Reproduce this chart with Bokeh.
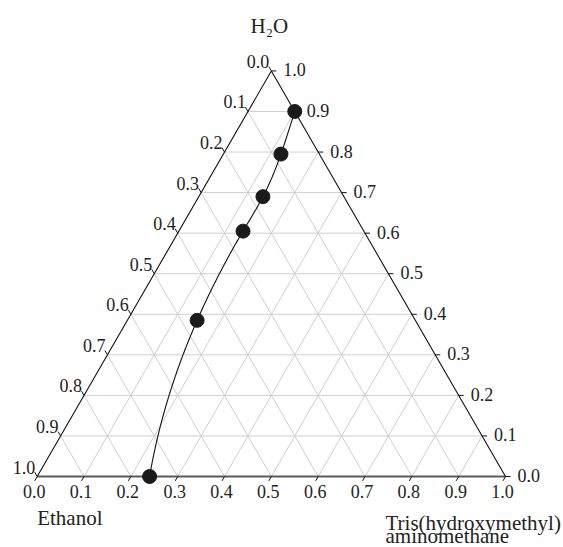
import numpy as np
from bokeh.plotting import figure
from bokeh.models import Range1d
from bokeh.core.properties import value
from bokeh.embed import file_html
from bokeh.resources import INLINE

# ---- data (mass fractions) ----
water = [0.90, 0.795, 0.69, 0.605, 0.385, 0.0]
tris = [0.10, 0.123, 0.137, 0.137, 0.149, 0.24]
ethanol = [round(1 - w - t, 3) for w, t in zip(water, tris)]

tick_values = [0.0, 0.1, 0.2, 0.3, 0.4, 0.5, 0.6, 0.7, 0.8, 0.9, 1.0]
tick_labels = ["0.0", "0.1", "0.2", "0.3", "0.4", "0.5", "0.6", "0.7", "0.8", "0.9", "1.0"]
top_label = "H₂O"
left_label = "Ethanol"
right_label_lines = ["Tris(hydroxymethyl)", "aminomethane"]

S = np.sqrt(3) / 2


def cart(t, w):
    t = np.asarray(t, dtype=float)
    w = np.asarray(w, dtype=float)
    return t + 0.5 * w, S * w


# ---- figure geometry ----
W, H = 563, 547
scale = 468.3
px0, py0 = 36.7, 476.0
p = figure(width=W, height=H,
           x_range=Range1d(-px0 / scale, (W - px0) / scale),
           y_range=Range1d(-(H - py0) / scale, py0 / scale),
           output_backend="svg", toolbar_location=None, min_border=0)
p.axis.visible = False
p.grid.visible = False
p.outline_line_color = None
p.background_fill_color = "white"

FONT = value("Liberation Serif")
GRID = "#cfcfcf"

# ---- grid lines ----
gx, gy = [], []
for k in tick_values[1:-1]:
    a = cart([0, 1 - k], [k, k]); gx.append(list(a[0])); gy.append(list(a[1]))
    a = cart([k, k], [0, 1 - k]); gx.append(list(a[0])); gy.append(list(a[1]))
    a = cart([1 - k, 0], [0, 1 - k]); gx.append(list(a[0])); gy.append(list(a[1]))
p.multi_line(gx, gy, line_color=GRID, line_width=1)

# ---- triangle ----
bx_e, by_e = cart([0, 1], [0, 0])
p.line(bx_e, by_e, line_color="#5a5a5a", line_width=1.8)
tx, ty = cart([1, 0, 0], [0, 1, 0])
p.line(tx, ty, line_color="#111111", line_width=1.1)

# ---- ticks ----
L = 5.0 / scale
tv = np.array(tick_values)
bx, by = cart(tv, 0 * tv)          # bottom (Tris)
rx, ry = cart(1 - tv, tv)          # right (H2O)
lx, ly = cart(0 * tv, 1 - tv)      # left (Ethanol)
xs, ys = [], []
for i in range(len(tv)):
    xs.append([bx[i], bx[i] - 0.5 * L]); ys.append([by[i], by[i] - S * L])
    xs.append([rx[i], rx[i] + L]); ys.append([ry[i], ry[i]])
    xs.append([lx[i], lx[i] - 0.5 * L]); ys.append([ly[i], ly[i] + S * L])
p.multi_line(xs, ys, line_color="#111111", line_width=1)

TS = "18px"
p.text(x=bx, y=by, text=tick_labels, text_font=FONT, text_font_size=TS,
       text_align="center", text_baseline="top", x_offset=-3, y_offset=8,
       text_color="#222222")
p.text(x=rx, y=ry, text=tick_labels, text_font=FONT, text_font_size=TS,
       text_align="left", text_baseline="middle", x_offset=12, y_offset=-1,
       text_color="#222222")
p.text(x=lx, y=ly, text=tick_labels, text_font=FONT, text_font_size=TS,
       text_align="right", text_baseline="bottom", x_offset=-2, y_offset=-3,
       text_color="#222222")

# ---- corner labels ----
LS = "21px"
ax_, ay_ = cart([0], [1])
p.text(x=ax_, y=ay_, text=[top_label], text_font=FONT, text_font_size=LS,
       text_align="center", text_baseline="alphabetic", x_offset=-2, y_offset=-45,
       text_color="#222222")
cx, cy = cart([0], [0])
p.text(x=cx, y=cy, text=[left_label], text_font=FONT, text_font_size=LS,
       text_align="left", text_baseline="alphabetic", x_offset=0, y_offset=41,
       text_color="#222222")
ex, ey = cart([1], [0])
p.text(x=[ex[0], ex[0]], y=[ey[0], ey[0]], text=right_label_lines, text_font=FONT,
       text_font_size=LS, text_align="left", text_baseline="alphabetic",
       x_offset=-120, y_offset=[46, 59], text_color="#222222")

# ---- data curve (not-a-knot cubic spline of x as a function of y) ----
px, py = cart(tris, water)
order = np.argsort(py)
yk = py[order]
xk = px[order]
n = len(yk)
h = np.diff(yk)
A = np.zeros((n, n))
r = np.zeros(n)
A[0, 0], A[0, 1], A[0, 2] = h[1], -(h[0] + h[1]), h[0]
A[-1, -3], A[-1, -2], A[-1, -1] = h[-1], -(h[-2] + h[-1]), h[-2]
for i in range(1, n - 1):
    A[i, i - 1] = h[i - 1]
    A[i, i] = 2 * (h[i - 1] + h[i])
    A[i, i + 1] = h[i]
    r[i] = 6 * ((xk[i + 1] - xk[i]) / h[i] - (xk[i] - xk[i - 1]) / h[i - 1])
M = np.linalg.solve(A, r)
ys_c = np.linspace(yk[0], yk[-1], 300)
idx = np.clip(np.searchsorted(yk, ys_c) - 1, 0, n - 2)
y0, y1 = yk[idx], yk[idx + 1]
hh = y1 - y0
xs_c = (M[idx] * (y1 - ys_c) ** 3 / (6 * hh) + M[idx + 1] * (ys_c - y0) ** 3 / (6 * hh)
        + (xk[idx] / hh - M[idx] * hh / 6) * (y1 - ys_c)
        + (xk[idx + 1] / hh - M[idx + 1] * hh / 6) * (ys_c - y0))
p.line(xs_c, ys_c, line_color="#111111", line_width=1.1)

p.scatter(px, py, size=14, fill_color="#1a1a1a", line_color="#1a1a1a")

open("out.html", "w").write(file_html(p, INLINE))
